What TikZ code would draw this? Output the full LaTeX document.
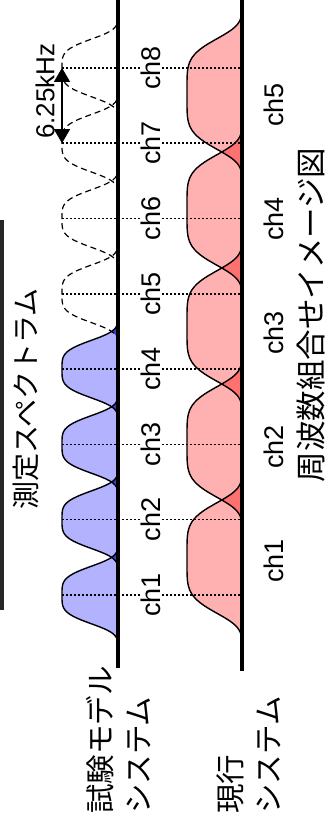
\documentclass[tikz,border=0pt]{standalone}
\usepackage{fontspec}
\setmainfont{Liberation Sans}
\newfontfamily\jp{Noto Sans CJK JP}
\usetikzlibrary{arrows.meta}
\definecolor{trialblue}{RGB}{178,178,255}
\definecolor{trialdark}{RGB}{60,60,205}
\definecolor{curred}{RGB}{255,176,176}
\definecolor{curdark}{RGB}{255,112,112}

\begin{document}
\begin{tikzpicture}[x=1pt, y=-1pt,
					bell/.style={draw=black, line width=1.4pt},
					ghost/.style={draw=black, line width=1.2pt, dash pattern=on 6pt off 4pt},
					chline/.style={line width=1.5pt, dash pattern=on 1.5pt off 2.5pt},
					base/.style={line width=3.5pt},
					band/.style={line width=1.2pt, {Triangle[width=16pt,length=14pt]}-{Triangle[width=16pt,length=14pt]}},
					chlab/.style={rotate=90, fill=white, inner sep=1pt, font=\fontsize{27}{30}\selectfont},
					title/.style={rotate=90, inner sep=0pt, font=\jp\fontsize{28}{30}\selectfont},
					sys/.style={rotate=90, align=left, inner sep=0pt, font=\jp\fontsize{29.5}{38}\selectfont}]
					
					\useasboundingbox (0,0) rectangle (325,827);
					\fill[black!85] (0,220) rectangle (4,610);
					
					% trial system: filled bells and their overlaps
					\foreach \i [evaluate=\i as \c using {595-75.3*(\i-1)}] in {1,...,4}
						\fill[trialblue] plot[domain=-43:43, samples=41, variable=\dd] ({118-56*exp(-pow(abs(\dd)/31,4))}, {\c+\dd}) -- cycle;
					\foreach \i [evaluate=\i as \c using {595-75.3*(\i-1)}] in {1,...,4} {
						\begin{scope}
							\clip plot[domain=-43:43, samples=41, variable=\dd] ({118-56*exp(-pow(abs(\dd)/31,4))}, {\c+\dd}) -- cycle;
							\fill[trialdark] plot[domain=-43:43, samples=41, variable=\dd] ({118-56*exp(-pow(abs(\dd)/31,4))}, {\c-75.3+\dd}) -- cycle;
						\end{scope}
					}
					
					% current system: filled bells and their overlaps
					\foreach \i [evaluate=\i as \c using {558-116*(\i-1)}] in {1,...,5}
						\fill[curred] plot[domain=-84:84, samples=61, variable=\dd] ({242-55*exp(-pow(abs(\dd)/58,5))}, {\c+\dd}) -- cycle;
					\foreach \i [evaluate=\i as \c using {558-116*(\i-1)}] in {1,...,4} {
						\begin{scope}
							\clip plot[domain=-84:84, samples=61, variable=\dd] ({242-55*exp(-pow(abs(\dd)/58,5))}, {\c+\dd}) -- cycle;
							\fill[curdark] plot[domain=-84:84, samples=61, variable=\dd] ({242-55*exp(-pow(abs(\dd)/58,5))}, {\c-116+\dd}) -- cycle;
						\end{scope}
					}
					
					% outlines
					\foreach \i [evaluate=\i as \c using {595-75.3*(\i-1)}] in {1,...,4}
						\draw[bell] plot[domain=-43:43, samples=41, variable=\dd] ({118-56*exp(-pow(abs(\dd)/31,4))}, {\c+\dd});
					\foreach \i [evaluate=\i as \c using {595-75.3*(\i-1)}] in {5,...,8}
						\draw[ghost] plot[domain=-43:43, samples=41, variable=\dd] ({118-56*exp(-pow(abs(\dd)/31,4))}, {\c+\dd});
					\foreach \i [evaluate=\i as \c using {558-116*(\i-1)}] in {1,...,5}
						\draw[bell] plot[domain=-84:84, samples=61, variable=\dd] ({242-55*exp(-pow(abs(\dd)/58,5))}, {\c+\dd});
					
					% channel lines and labels
					\foreach \i [evaluate=\i as \c using {595-75.3*(\i-1)}] in {1,...,8} {
						\coordinate (tpk\i) at (62,\c);
						\coordinate (tend\i) at (242,\c);
						\draw[chline] (tpk\i) -- (tend\i);
						\node[chlab] (tch\i) at (150.5,\c) {ch\i};
					}
					\foreach \i [evaluate=\i as \c using {561-114*(\i-1)}] in {1,...,5}
						\node[chlab] (cch\i) at (274,\c) {ch\i};
					
					% baselines
					\coordinate (ttop) at (118,0);
					\coordinate (tbot) at (118,668);
					\coordinate (ctop) at (242,0);
					\coordinate (cbot) at (242,671);
					\draw[base] (ttop) -- (tbot);
					\draw[base] (ctop) -- (cbot);
					
					% spacing arrow
					\draw[band] (tpk8) -- (tpk7);
					\node[rotate=90, inner sep=0pt, font=\fontsize{26}{28}\selectfont] (bw) at (45,91) {6.25kHz};
					
					\node[title] (spec) at (26,399) {測定スペクトラム};
					\node[title, font=\jp\fontsize{30.5}{32}\selectfont] (fig) at (311,315) {周波数組合せイメージ図};
					\node[sys] (trial) at (118.5,740) {試験モデル\\システム};
					\node[sys] (cur) at (248.5,755) {現行\\システム};
				\end{tikzpicture}
\end{document}
